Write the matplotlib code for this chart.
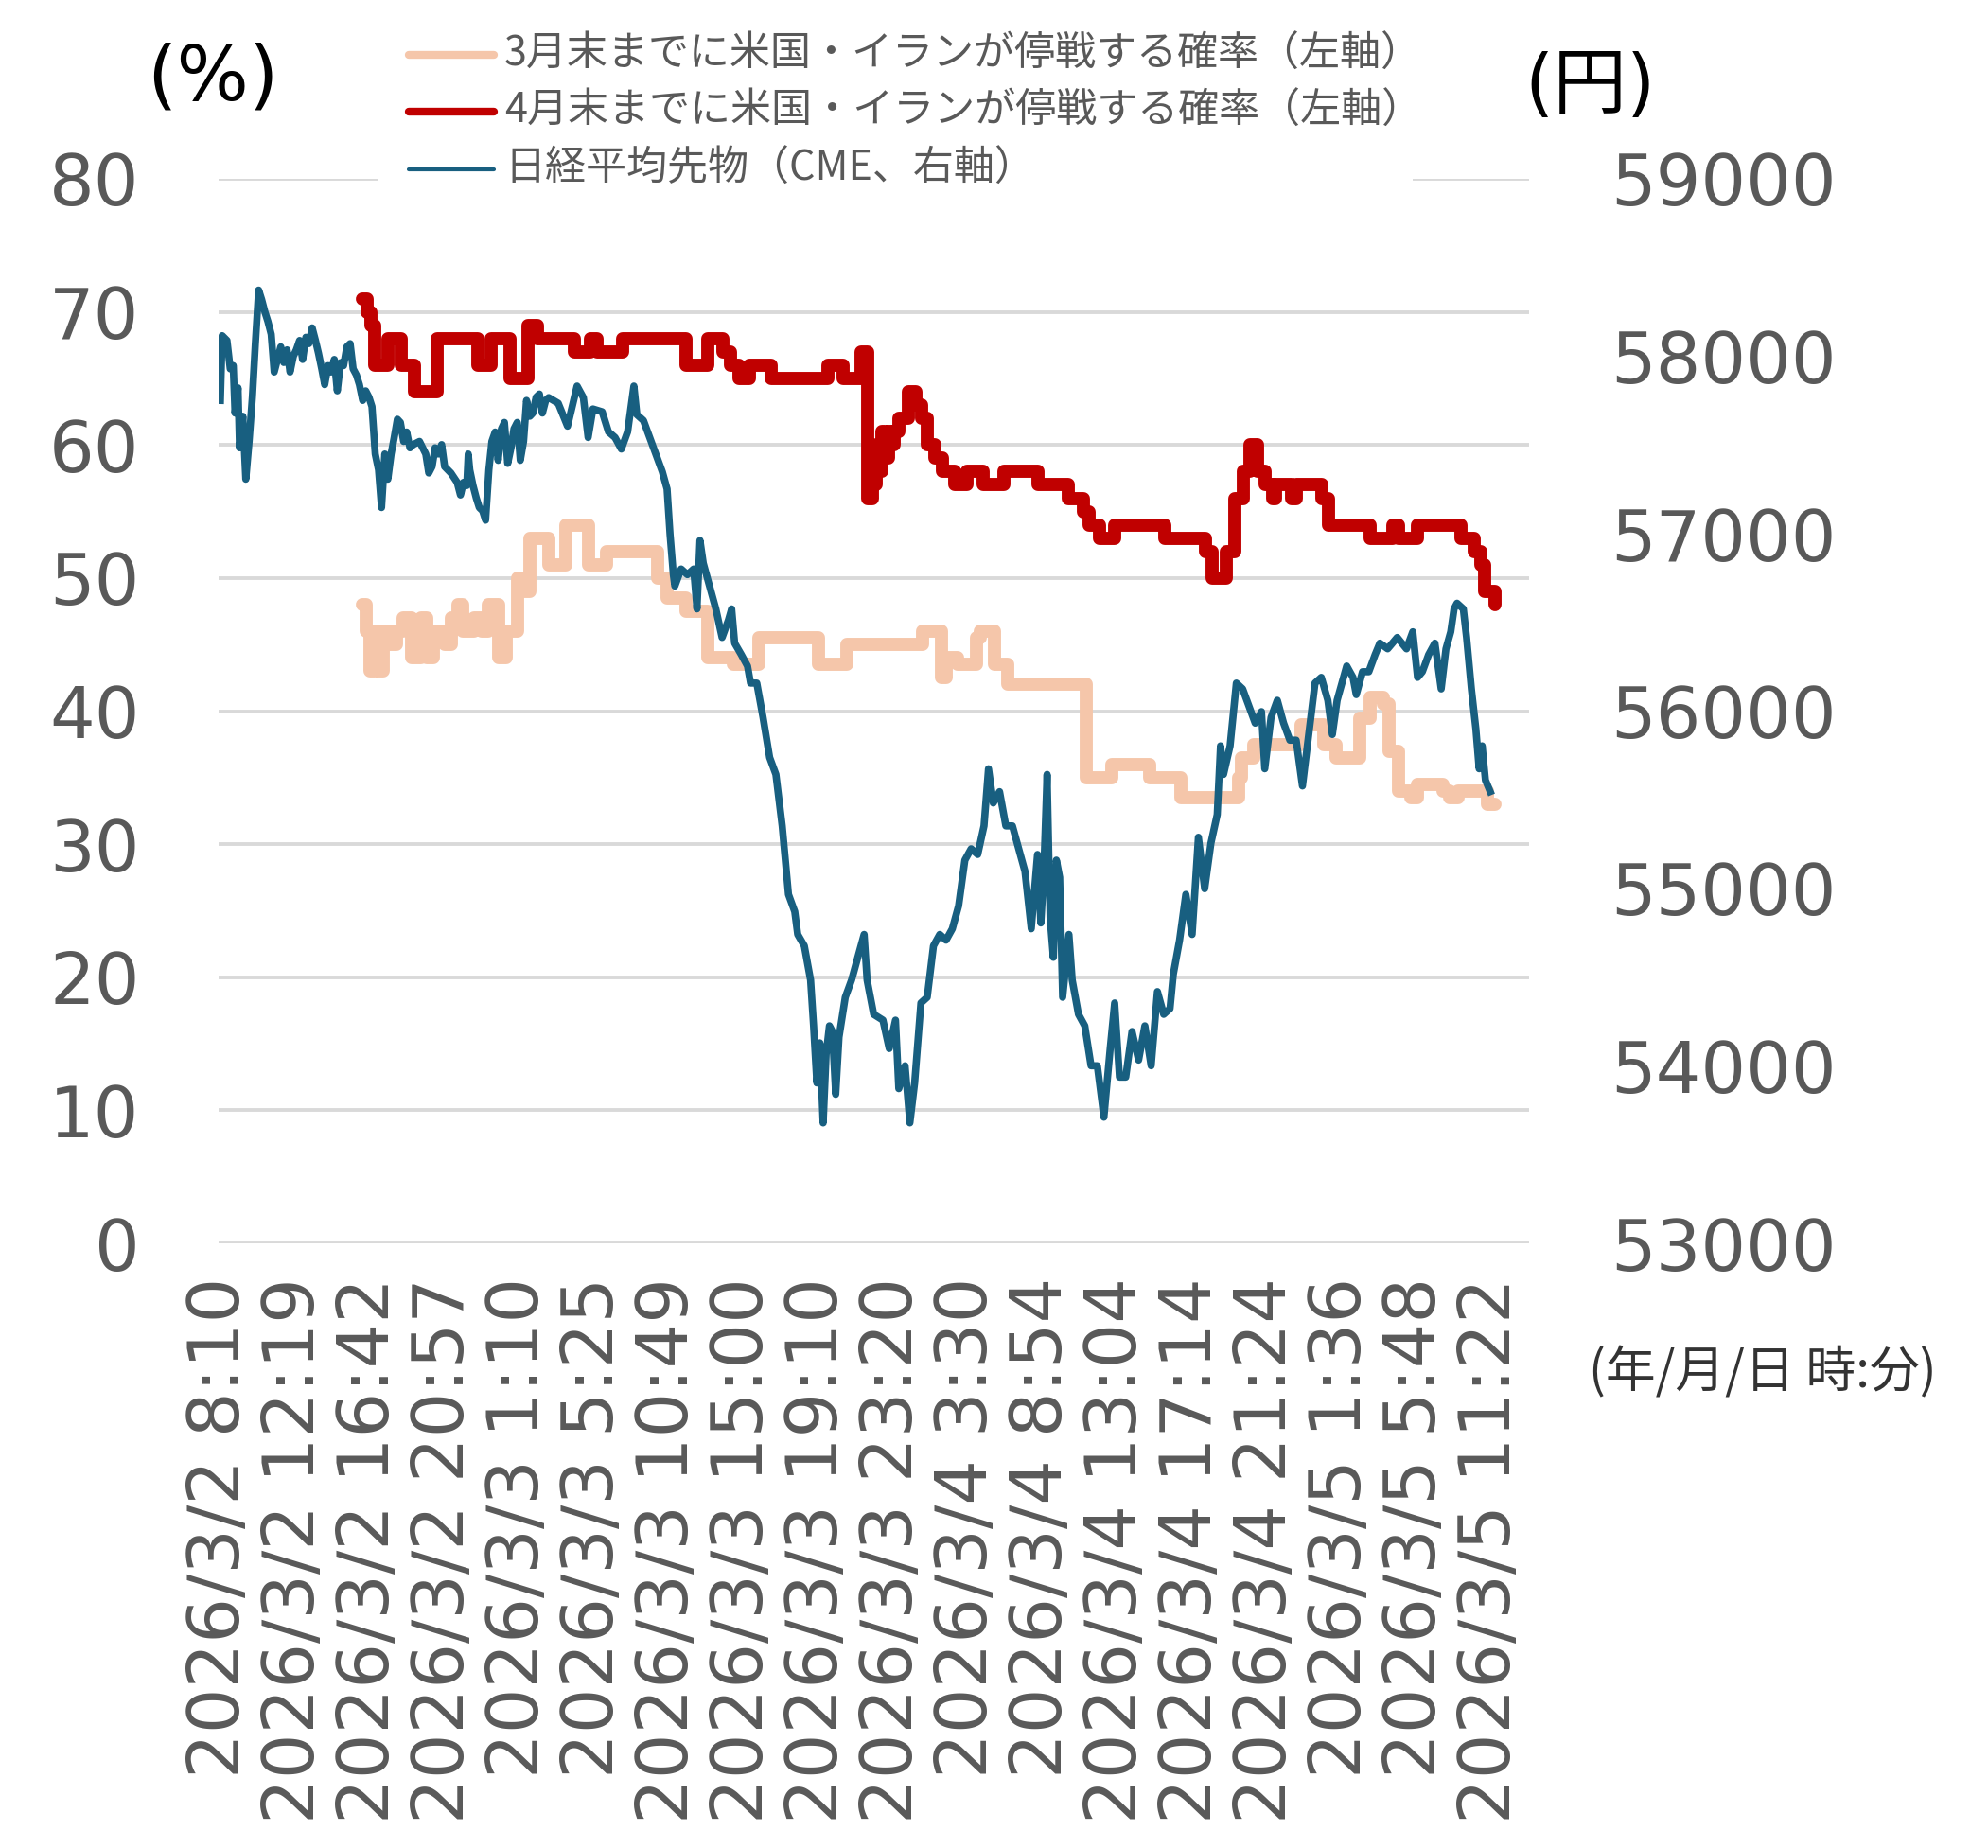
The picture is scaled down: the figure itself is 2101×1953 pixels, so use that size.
import matplotlib
matplotlib.use("Agg")
import matplotlib.pyplot as plt
from matplotlib.lines import Line2D
from matplotlib.patches import Rectangle

plt.rcParams['font.family'] = ['DejaVu Sans', 'Noto Sans CJK JP']

# ---------------- data ----------------
tick_pos = [0, 250, 500, 750, 1000, 1250, 1500, 1750, 2000, 2250, 2500,
            2750, 3000, 3250, 3500, 3750, 4000, 4250]
tick_labels = ['2026/3/2 8:10', '2026/3/2 12:19', '2026/3/2 16:42', '2026/3/2 20:57',
               '2026/3/3 1:10', '2026/3/3 5:25', '2026/3/3 10:49', '2026/3/3 15:00',
               '2026/3/3 19:10', '2026/3/3 23:20', '2026/3/4 3:30', '2026/3/4 8:54',
               '2026/3/4 13:04', '2026/3/4 17:14', '2026/3/4 21:24', '2026/3/5 1:36',
               '2026/3/5 5:48', '2026/3/5 11:22']

nikkei_idx = [
    0, 6, 22, 33, 43, 49, 59, 64, 75, 85,
    96, 107, 117, 128, 138, 149, 159, 170, 180, 191,
    202, 212, 223, 233, 244, 254, 265, 275, 286, 296,
    307, 318, 328, 339, 349, 360, 370, 381, 391, 402,
    412, 423, 434, 444, 455, 465, 476, 486, 497, 507,
    518, 529, 539, 550, 560, 571, 581, 592, 602, 613,
    623, 634, 645, 666, 687, 697, 708, 718, 729, 740,
    750, 771, 792, 803, 813, 824, 829, 834, 845, 856,
    866, 877, 887, 898, 908, 919, 929, 940, 950, 961,
    972, 982, 993, 1003, 1014, 1024, 1035, 1045, 1056, 1067,
    1077, 1088, 1098, 1130, 1161, 1193, 1214, 1230, 1246, 1277,
    1298, 1320, 1341, 1362, 1383, 1393, 1415, 1436, 1457, 1478,
    1494, 1504, 1515, 1520, 1541, 1562, 1583, 1594, 1604, 1615,
    1636, 1657, 1678, 1699, 1710, 1720, 1742, 1763, 1773, 1794,
    1815, 1837, 1858, 1879, 1900, 1921, 1931, 1953, 1974, 1984,
    1995, 2005, 2016, 2026, 2037, 2047, 2058, 2069, 2090, 2111,
    2132, 2153, 2163, 2185, 2216, 2237, 2258, 2269, 2290, 2306,
    2322, 2343, 2364, 2385, 2406, 2427, 2448, 2469, 2490, 2511,
    2533, 2554, 2569, 2585, 2606, 2627, 2649, 2670, 2691, 2712,
    2733, 2744, 2754, 2765, 2775, 2786, 2796, 2807, 2817, 2838,
    2849, 2870, 2891, 2912, 2933, 2955, 2976, 2991, 3007, 3028,
    3049, 3071, 3092, 3113, 3134, 3155, 3176, 3187, 3208, 3229,
    3250, 3271, 3292, 3313, 3334, 3345, 3355, 3377, 3398, 3419,
    3440, 3461, 3482, 3493, 3514, 3535, 3556, 3577, 3598, 3619,
    3640, 3661, 3682, 3704, 3719, 3735, 3751, 3767, 3788, 3799,
    3820, 3841, 3862, 3878, 3904, 3936, 3967, 3988, 4004, 4020,
    4041, 4062, 4083, 4099, 4115, 4126, 4136, 4157, 4168, 4184,
    4199, 4210, 4220, 4231, 4247]
nikkei = [
    57751, 58116, 58089, 57929, 57947, 57680, 57822, 57484, 57662, 57307,
    57520, 57769, 58071, 58373, 58320, 58249, 58196, 58124, 57911, 57982,
    58053, 57965, 58036, 57911, 58000, 58036, 58089, 57982, 58107, 58071,
    58160, 58089, 58018, 57929, 57840, 57947, 57911, 57982, 57805, 57964,
    57947, 58053, 58071, 57929, 57894, 57840, 57751, 57805, 57769, 57716,
    57449, 57360, 57147, 57449, 57307, 57449, 57538, 57645, 57627, 57520,
    57573, 57484, 57502, 57520, 57449, 57342, 57378, 57484, 57449, 57502,
    57378, 57342, 57289, 57218, 57289, 57271, 57449, 57360, 57271, 57200,
    57147, 57129, 57076, 57360, 57520, 57573, 57413, 57591, 57627, 57396,
    57484, 57591, 57627, 57413, 57520, 57751, 57662, 57680, 57769, 57787,
    57680, 57751, 57767, 57735, 57606, 57832, 57767, 57542, 57703, 57687,
    57574, 57542, 57477, 57574, 57832, 57671, 57638, 57542, 57445, 57349,
    57252, 56995, 56769, 56705, 56801, 56769, 56801, 56576, 56962, 56834,
    56705, 56576, 56415, 56512, 56576, 56383, 56319, 56254, 56158, 56158,
    55964, 55739, 55643, 55353, 54967, 54870, 54741, 54677, 54484, 54226,
    53904, 54130, 53679, 54065, 54226, 54194, 53840, 54162, 54387, 54484,
    54613, 54741, 54484, 54291, 54258, 54098, 54258, 53872, 54001, 53679,
    53904, 54355, 54387, 54677, 54741, 54709, 54773, 54902, 55160, 55224,
    55192, 55353, 55675, 55482, 55546, 55353, 55353, 55224, 55096, 54773,
    55192, 54806, 55096, 55643, 54838, 54612, 55160, 55063, 54387, 54741,
    54484, 54291, 54226, 54001, 54001, 53711, 54098, 54355, 53937, 53937,
    54194, 54033, 54226, 54001, 54419, 54291, 54323, 54516, 54709, 54967,
    54741, 55289, 54999, 55256, 55417, 55804, 55643, 55804, 56158, 56125,
    56029, 55932, 55997, 55675, 55964, 56061, 55932, 55836, 55836, 55578,
    55868, 56158, 56190, 56061, 55868, 56061, 56158, 56254, 56190, 56093,
    56222, 56222, 56318, 56383, 56351, 56415, 56351, 56447, 56190, 56222,
    56318, 56383, 56125, 56351, 56447, 56576, 56608, 56576, 56415, 56125,
    55900, 55675, 55804, 55611, 55546]

# 3月末までに停戦する確率 (step changes: index -> level)
mar_idx = [476, 488, 500, 515, 528, 545, 565, 590, 610, 640,
           670, 690, 712, 750, 772, 795, 812, 850, 875, 895,
           930, 955, 995, 1015, 1035, 1098, 1155, 1230, 1293, 1462,
           1494, 1557, 1631, 1715, 1800, 2000, 2095, 2348, 2412, 2427,
           2465, 2528, 2540, 2590, 2633, 2896, 2981, 3107, 3213, 3405,
           3415, 3455, 3614, 3690, 3730, 3810, 3846, 3890, 3910, 3940,
           3980, 4005, 4090, 4110, 4140, 4237, 4263]
mar_prob = [48, 46, 43, 46, 43, 46, 45, 46, 47, 44,
            47, 44, 46, 45, 47, 48, 46, 47, 46, 48,
            44, 46, 50, 49, 53, 51, 54, 51, 52, 50,
            48.5, 47.5, 44, 43.5, 45.5, 43.5, 45, 46, 42.5, 44,
            43.5, 45.5, 46, 43.5, 42, 35, 36, 35, 33.5, 35,
            36.5, 37.5, 39, 37.5, 36.5, 39.5, 41, 40.5, 37, 34,
            33.5, 34.5, 34, 33.5, 34, 33, 33]

# 4月末までに停戦する確率
apr_idx = [476, 490, 505, 515, 562, 605, 650, 725, 862, 905,
           968, 1030, 1062, 1185, 1238, 1259, 1344, 1557, 1629, 1680,
           1705, 1734, 1768, 1842, 2032, 2084, 2143, 2166, 2180, 2192,
           2202, 2212, 2222, 2233, 2243, 2253, 2270, 2300, 2325, 2345,
           2365, 2390, 2415, 2455, 2498, 2550, 2622, 2735, 2835, 2888,
           2905, 2940, 2992, 3160, 3295, 3318, 3365, 3392, 3420, 3445,
           3470, 3495, 3520, 3530, 3582, 3600, 3685, 3705, 3845, 3920,
           3940, 4005, 4150, 4195, 4215, 4228, 4263]
apr_prob = [71, 70, 69, 66, 68, 66, 64, 68, 66, 68,
            65, 69, 68, 67, 68, 67, 68, 66, 68, 67,
            66, 65, 66, 65, 66, 65, 67, 56, 57, 60,
            58, 61, 59, 61, 60, 61, 62, 64, 63, 62,
            60, 59, 58, 57, 58, 57, 58, 57, 56, 55,
            54, 53, 54, 53, 52, 50, 52, 56, 58, 60,
            58, 57, 56, 57, 56, 57, 56, 54, 53, 54,
            53, 54, 53, 52, 51, 49, 48]

series_labels = ['3月末までに米国・イランが停戦する確率（左軸）',
                 '4月末までに米国・イランが停戦する確率（左軸）',
                 '日経平均先物（CME、右軸）']

# ---------------- style ----------------
W, H = 2101, 1953
C_MAR = '#F5C6AA'
C_APR = '#C00000'
C_NK = '#185F80'
C_TXT = '#595959'
C_GRID = '#D9D9D9'
CJK = ['Noto Sans CJK JP', 'DejaVu Sans']

fig = plt.figure(figsize=(W / 100, H / 100), dpi=100)
fig.patch.set_facecolor('white')

def fx(x):
    return x / W

def fy(y):
    return 1 - y / H

ax = fig.add_axes([fx(231), fy(1314), (1616 - 231) / W, (1314 - 189) / H])
ax2 = ax.twinx()

ax.set_xlim(-6, 4377)
ax.set_ylim(0, 80)
ax2.set_ylim(53000, 59000)

ax.set_yticks(range(0, 81, 10))
ax2.set_yticks(range(53000, 59001, 1000))
ax.set_xticks(tick_pos)
ax.set_xticklabels(tick_labels, rotation=90, family='DejaVu Sans')
for lbl in ax.get_yticklabels() + ax2.get_yticklabels():
    lbl.set_family('DejaVu Sans')

ax.yaxis.grid(True, color=C_GRID, linewidth=2.8)
ax.xaxis.grid(False)
ax.set_axisbelow(True)

for a in (ax, ax2):
    for s in a.spines.values():
        s.set_visible(False)

ax.tick_params(axis='y', length=0, pad=60, labelsize=54, labelcolor=C_TXT)
ax.tick_params(axis='x', length=0, pad=26, labelsize=54, labelcolor=C_TXT)
ax2.tick_params(axis='y', length=0, pad=62, labelsize=54, labelcolor=C_TXT)

ax.plot(mar_idx, mar_prob, color=C_MAR, lw=10, drawstyle='steps-post',
        solid_joinstyle='round', solid_capstyle='round', zorder=3)
ax.plot(apr_idx, apr_prob, color=C_APR, lw=10, drawstyle='steps-post',
        solid_joinstyle='round', solid_capstyle='round', zorder=3)
ax2.plot(nikkei_idx, nikkei, color=C_NK, lw=5.5, solid_joinstyle='round', zorder=3)

# legend box (white) covering top gridline
fig.patches.append(Rectangle((fx(400), fy(210)), (1493 - 400) / W, (210 - 15) / H,
                             transform=fig.transFigure, facecolor='white',
                             edgecolor='none', zorder=5))
legend_colors = [C_MAR, C_APR, C_NK]
legend_lw = [6, 6, 3]
legend_y = [58, 118, 179]
for lab, col, lw, yy in zip(series_labels, legend_colors, legend_lw, legend_y):
    fig.lines.append(Line2D([fx(432), fx(522)], [fy(yy), fy(yy)], transform=fig.transFigure,
                            color=col, lw=lw, solid_capstyle='round', zorder=6))
    fig.text(fx(533), fy(yy), lab, fontsize=31, color=C_TXT, family=CJK,
             ha='left', va='center', zorder=7)

fig.text(fx(225), fy(83), '(%)', fontsize=58, color='black', family='DejaVu Sans',
         ha='center', va='center')
fig.text(fx(1680), fy(92), '(円)', fontsize=56, color='black',
         family=['DejaVu Sans', 'Noto Sans CJK JP'], ha='center', va='center')
fig.text(fx(1863), fy(1451), '(年/月/日 時:分)', fontsize=38, color='#333333',
         family=CJK, ha='center', va='center')

fig.savefig('out.png', dpi=100, facecolor='white')
